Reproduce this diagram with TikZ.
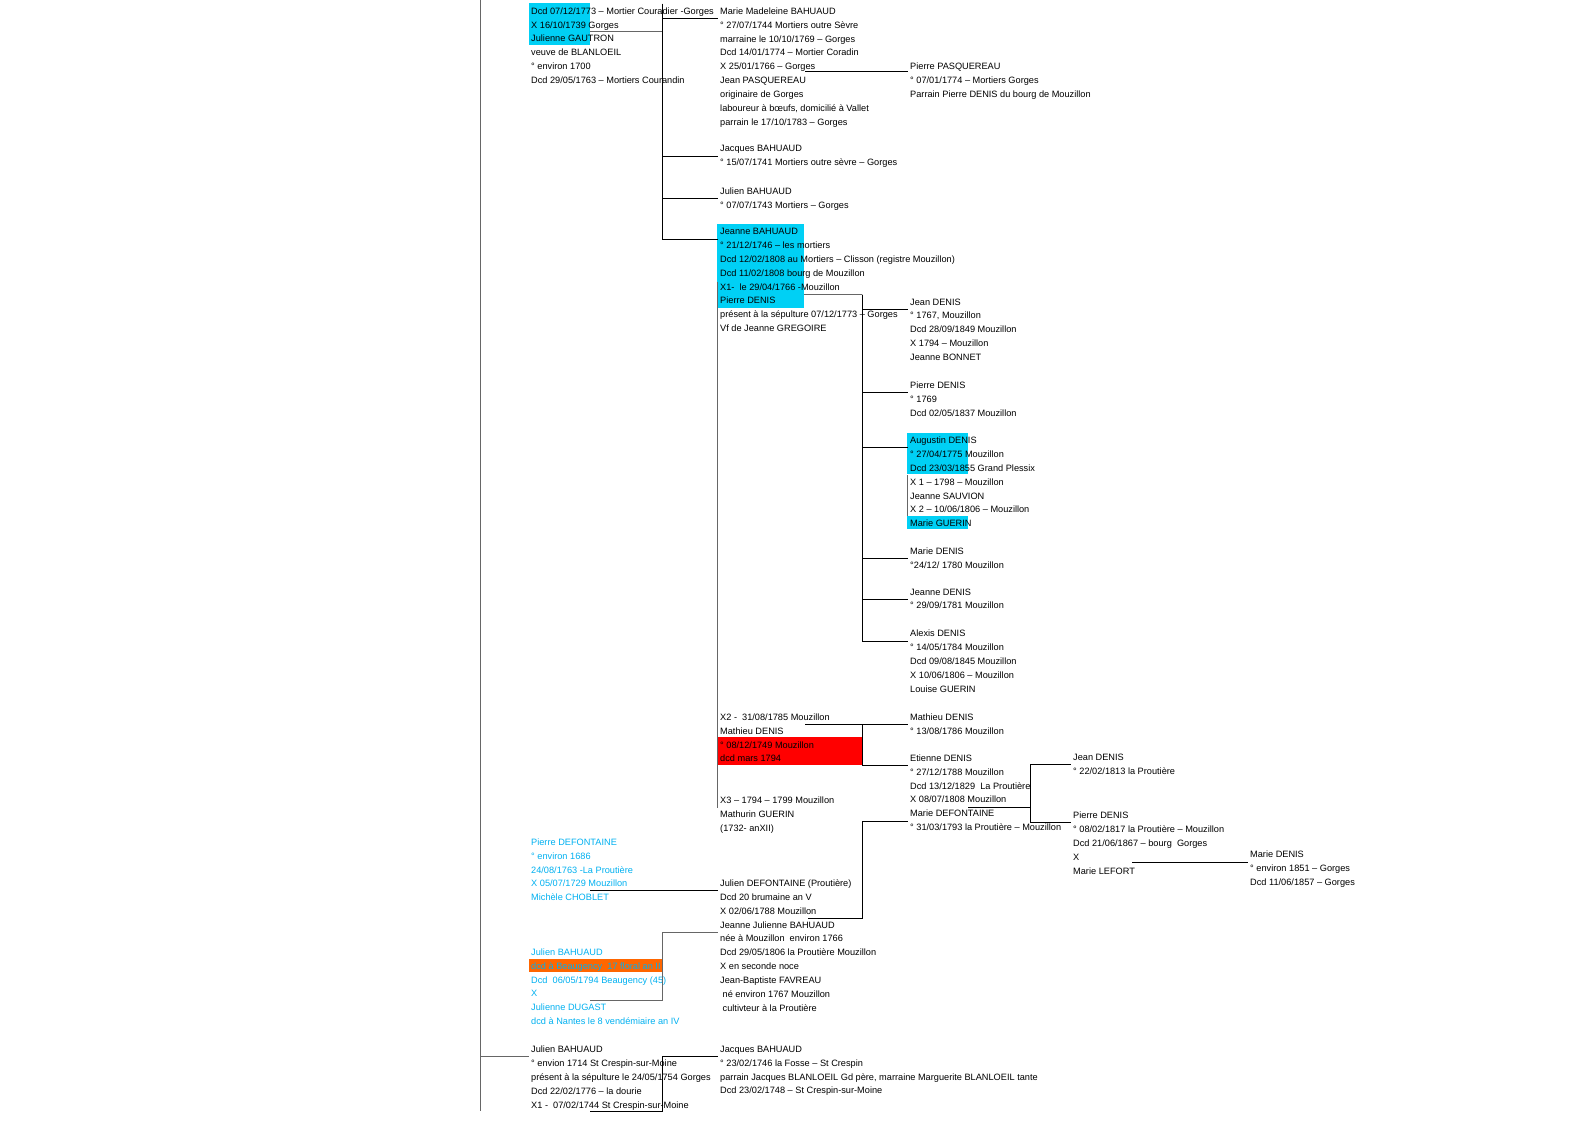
\documentclass[tikz,border=0pt]{standalone}
\usepackage{fontspec}
\setmainfont{Liberation Sans}
\usetikzlibrary{backgrounds}
\definecolor{turq}{RGB}{0,208,245}
\definecolor{lblue}{RGB}{0,176,240}
\definecolor{orng}{RGB}{255,102,0}

\begin{document}
\begin{tikzpicture}[x=1pt, y=-1pt,
  txt/.style={anchor=north west, yshift=3.2pt, inner sep=0pt, align=left,
    font=\fontsize{9.2}{13.85}\selectfont, execute at begin node=\strut},
  ln/.style={line width=1pt, black},
  lng/.style={line width=1pt, black!60},
  br/.style={ln, shorten >=2pt}]
  \useasboundingbox (0,0) rectangle (1588,1123);

  % famille BAHUAUD - GAUTRON
  \node[txt] (gautron) at (531,10.6) {Dcd 07/12/1773 – Mortier Couradier -Gorges\\X 16/10/1739 Gorges\\Julienne GAUTRON\\veuve de BLANLOEIL\\° environ 1700\\Dcd 29/05/1763 – Mortiers Courandin};
  \node[txt] (madeleine) at (720,10.7) {Marie Madeleine BAHUAUD\\° 27/07/1744 Mortiers outre Sèvre\\marraine le 10/10/1769 – Gorges\\Dcd 14/01/1774 – Mortier Coradin\\X 25/01/1766 – Gorges\\Jean PASQUEREAU\\originaire de Gorges\\laboureur à bœufs, domicilié à Vallet\\parrain le 17/10/1783 – Gorges};
  \node[txt] (ppasq) at (910,66) {Pierre PASQUEREAU\\° 07/01/1774 – Mortiers Gorges\\Parrain Pierre DENIS du bourg de Mouzillon};
  \node[txt] (jacques) at (720,148.3) {Jacques BAHUAUD\\° 15/07/1741 Mortiers outre sèvre – Gorges};
  \node[txt] (julien) at (720,190.7) {Julien BAHUAUD\\° 07/07/1743 Mortiers – Gorges};
  \node[txt] (jeanne) at (720,231.3) {Jeanne BAHUAUD\\° 21/12/1746 – les mortiers\\Dcd 12/02/1808 au Mortiers – Clisson (registre Mouzillon)\\Dcd 11/02/1808 bourg de Mouzillon\\X1-\ \ le 29/04/1766 -Mouzillon\\Pierre DENIS\\présent à la sépulture 07/12/1773 – Gorges\\Vf de Jeanne GREGOIRE};
  \node[txt] (jeanneX2) at (720,716.7) {X2 -\ \ 31/08/1785 Mouzillon\\Mathieu DENIS\\° 08/12/1749 Mouzillon\\dcd mars 1794};
  \node[txt] (jeanneX3) at (720,799.7) {X3 – 1794 – 1799 Mouzillon\\Mathurin GUERIN\\(1732- anXII)};

  % enfants DENIS
  \node[txt] (jeanD) at (910,301.7) {Jean DENIS\\° 1767, Mouzillon\\Dcd 28/09/1849 Mouzillon\\X 1794 – Mouzillon\\Jeanne BONNET};
  \node[txt] (pierreD) at (910,385) {Pierre DENIS\\° 1769\\Dcd 02/05/1837 Mouzillon};
  \node[txt] (augustin) at (910,440) {Augustin DENIS\\° 27/04/1775 Mouzillon\\Dcd 23/03/1855 Grand Plessix\\X 1 – 1798 – Mouzillon\\Jeanne SAUVION\\X 2 – 10/06/1806 – Mouzillon\\Marie GUERIN};
  \node[txt] (marieD) at (910,550.7) {Marie DENIS\\°24/12/ 1780 Mouzillon};
  \node[txt] (jeanneD) at (910,591.7) {Jeanne DENIS\\° 29/09/1781 Mouzillon};
  \node[txt] (alexis) at (910,633.3) {Alexis DENIS\\° 14/05/1784 Mouzillon\\Dcd 09/08/1845 Mouzillon\\X 10/06/1806 – Mouzillon\\Louise GUERIN};
  \node[txt] (mathieu) at (910,716.7) {Mathieu DENIS\\° 13/08/1786 Mouzillon};
  \node[txt] (etienne) at (910,757.7) {Etienne DENIS\\° 27/12/1788 Mouzillon\\Dcd 13/12/1829\ \ La Proutière\\X 08/07/1808 Mouzillon\\Marie DEFONTAINE\\° 31/03/1793 la Proutière – Mouzillon};
  \node[txt] (jeanP) at (1073,757) {Jean DENIS\\° 22/02/1813 la Proutière};
  \node[txt] (pierreP) at (1073,815) {Pierre DENIS\\° 08/02/1817 la Proutière – Mouzillon\\Dcd 21/06/1867 – bourg\ \ Gorges\\X\\Marie LEFORT};
  \node[txt] (marieG) at (1250,854.3) {Marie DENIS\\° environ 1851 – Gorges\\Dcd 11/06/1857 – Gorges};

  % famille DEFONTAINE
  \node[txt, text=lblue] (pdefont) at (531,841.7) {Pierre DEFONTAINE\\° environ 1686\\24/08/1763 -La Proutière\\X 05/07/1729 Mouzillon\\Michèle CHOBLET};
  \node[txt] (jdefont) at (720,882.7) {Julien DEFONTAINE (Proutière)\\Dcd 20 brumaine an V\\X 02/06/1788 Mouzillon\\Jeanne Julienne BAHUAUD\\née à Mouzillon\ \ environ 1766\\Dcd 29/05/1806 la Proutière Mouzillon\\X en seconde noce\\Jean-Baptiste FAVREAU\\\hspace*{2.5pt}né environ 1767 Mouzillon\\\hspace*{2.5pt}cultivteur à la Proutière};
  \node[txt, text=lblue] (julienBg) at (531,951.7) {Julien BAHUAUD\\dcd à Beaugency\ \ 17 floral an II\\Dcd\ \ 06/05/1794 Beaugency (45)\\X\\Julienne DUGAST\\dcd à Nantes le 8 vendémiaire an IV};

  % St Crespin
  \node[txt] (julienSC) at (531,1049) {Julien BAHUAUD\\° envion 1714 St Crespin-sur-Moine\\présent à la sépulture le 24/05/1754 Gorges\\Dcd 22/02/1776 – la dourie\\X1 -\ \ 07/02/1744 St Crespin-sur-Moine};
  \node[txt] (jacquesSC) at (720,1049) {Jacques BAHUAUD\\° 23/02/1746 la Fosse – St Crespin\\parrain Jacques BLANLOEIL Gd père, marraine Marguerite BLANLOEIL tante\\Dcd 23/02/1748 – St Crespin-sur-Moine};

  % surlignages
  \begin{scope}[on background layer]
    \fill[turq] ([xshift=-2pt,yshift=3.9pt]gautron.north west) rectangle ([xshift=59pt,yshift=-37.5pt]gautron.north west);
    \fill[turq] ([xshift=-3pt,yshift=4.1pt]jeanne.north west) rectangle ([xshift=84pt,yshift=-79.5pt]jeanne.north west);
    \fill[turq] ([xshift=-3pt,yshift=4.3pt]augustin.north west) rectangle ([xshift=58pt,yshift=-36.7pt]augustin.north west);
    \fill[turq] ([xshift=-3pt,yshift=-78.7pt]augustin.north west) rectangle ([xshift=58pt,yshift=-92.2pt]augustin.north west);
    \fill[red] ([xshift=-3pt,yshift=-23.5pt]jeanneX2.north west) rectangle ([xshift=142pt,yshift=-51.5pt]jeanneX2.north west);
    \fill[orng] ([xshift=-2pt,yshift=-10pt]julienBg.north west) rectangle ([xshift=131pt,yshift=-23.5pt]julienBg.north west);
  \end{scope}

  % ligne principale
  \coordinate (root) at (480,0);
  \coordinate (rootEnd) at (480,1111);
  \draw[lng] (root) -- (rootEnd);
  \draw[lng, shorten >=2pt] (root) |- ([yshift=-11pt]julienSC.north west);

  % enfants BAHUAUD - GAUTRON
  \coordinate (fam1) at ([xshift=131pt,yshift=3.5pt]gautron.north west);
  \draw[lng] ([xshift=59pt,yshift=-24.5pt]gautron.north west) -- ++(72,0);
  \foreach \c in {madeleine,jacques,julien,jeanne}
    \draw[br] (fam1) |- ([yshift=-11pt]\c.north west);
  \coordinate (famP) at ([xshift=85pt,yshift=-64.5pt]madeleine.north west);
  \draw[br] (famP) -- (famP -| ppasq.west);

  % Jeanne BAHUAUD, trois mariages
  \draw[lng] ([xshift=-2.5pt,yshift=-53.5pt]jeanne.north west) -- ([xshift=-2.5pt,yshift=-11.5pt]jeanneX3.north west);
  \coordinate (fam2) at ([xshift=84pt,yshift=-66.5pt]jeanne.north west);
  \coordinate (fam2v) at ([xshift=58pt]fam2);
  \draw[lng] (fam2) -- (fam2v);
  \foreach \c in {jeanD,pierreD,augustin,marieD,jeanneD,alexis}
    \draw[br] (fam2v) |- ([yshift=-11pt]\c.north west);
  \draw[lng] ([xshift=-2.5pt,yshift=-38.2pt]augustin.north west) -- ([xshift=-2.5pt,yshift=-79.2pt]augustin.north west);

  \coordinate (fam3) at ([xshift=85pt,yshift=-11pt]jeanneX2.north west);
  \coordinate (fam3v) at ([xshift=57pt]fam3);
  \draw[ln] (fam3) -- (fam3v);
  \foreach \c in {mathieu,etienne}
    \draw[br] (fam3v) |- ([yshift=-11pt]\c.north west);

  % Etienne DENIS - Marie DEFONTAINE
  \coordinate (fam4) at ([xshift=58pt,yshift=-52.8pt]etienne.north west);
  \coordinate (fam4v) at ([xshift=62pt]fam4);
  \draw[ln] (fam4) -- (fam4v);
  \foreach \c in {jeanP,pierreP}
    \draw[br] (fam4v) |- ([yshift=-11pt]\c.north west);
  \coordinate (fam5) at ([xshift=59pt,yshift=-51pt]pierreP.north west);
  \draw[br] (fam5) -- (fam5 -| marieG.west);

  % DEFONTAINE et BAHUAUD
  \coordinate (fam6) at ([xshift=59pt,yshift=-51.8pt]pdefont.north west);
  \draw[br] (fam6) -- (fam6 -| jdefont.west);
  \coordinate (fam7) at ([xshift=59pt,yshift=-51.5pt]julienBg.north west);
  \coordinate (jjb) at ([yshift=-52.8pt]jdefont.north west);
  \draw[lng, shorten >=2pt] (fam7) -| ([xshift=-58pt]jjb) -- (jjb);
  \coordinate (fam8) at ([xshift=88pt,yshift=-38.8pt]jdefont.north west);
  \coordinate (mdef) at ([yshift=-67.2pt]etienne.north west);
  \draw[br] (fam8) -| ([xshift=-48pt]mdef) -- (mdef);

  % St Crespin
  \coordinate (fam9) at ([xshift=59pt,yshift=-65.9pt]julienSC.north west);
  \coordinate (jsc) at ([yshift=-11pt]jacquesSC.north west);
  \draw[br] (fam9) -| ([xshift=-58pt]jsc) -- (jsc);
\end{tikzpicture}
\end{document}
